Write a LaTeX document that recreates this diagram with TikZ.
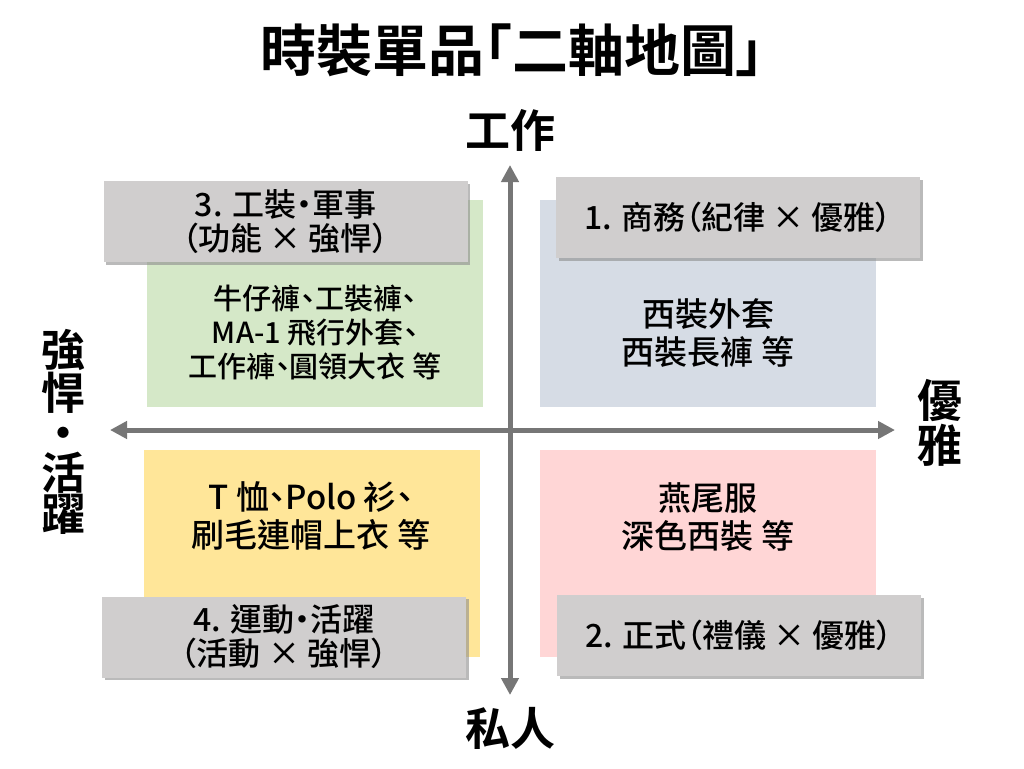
\documentclass[tikz,border=0pt]{standalone}
\usepackage{fontspec}
\setmainfont{Noto Sans CJK TC}[UprightFont=* Medium, BoldFont=* Bold, CharacterWidth=AlternateProportional]
\usetikzlibrary{arrows.meta,shadows}
\definecolor{axisgray}{RGB}{118,118,118}
\definecolor{labelgray}{RGB}{208,206,206}
\definecolor{qgreen}{RGB}{213,232,200}
\definecolor{qblue}{RGB}{214,220,229}
\definecolor{qyellow}{RGB}{255,230,153}
\definecolor{qpink}{RGB}{255,214,214}
\tikzset{
  quad/.style={rectangle, inner sep=0pt, minimum width=336pt, minimum height=207pt},
  tag/.style={rectangle, fill=labelgray, inner sep=0pt, minimum width=364pt, minimum height=81pt,
    align=center, font=\fontsize{32pt}{34pt}\selectfont,
    drop shadow={shadow xshift=2.5pt, shadow yshift=-2.5pt, fill=black!45, opacity=.6}},
  body/.style={align=center, font=\fontsize{33pt}{38pt}\selectfont},
  axislabel/.style={align=center, font=\bfseries\fontsize{45pt}{45pt}\selectfont},
}
\begin{document}
\begin{tikzpicture}[x=1pt, y=-1pt]
  \useasboundingbox[fill=white] (0,0) rectangle (1024,768);
  % title
  \node[font=\bfseries\fontsize{56pt}{60pt}\selectfont] (title) at (512,50) {時裝單品「二軸地圖」};
  % quadrants
  \node[quad, fill=qgreen]  (q3) at (315,303.5) {};
  \node[quad, fill=qblue]   (q1) at (708,303.5) {};
  \node[quad, fill=qyellow] (q4) at (311.5,553.5) {};
  \node[quad, fill=qpink]   (q2) at (708,553.5) {};
  % axes
  \coordinate (top) at (510,165);
  \coordinate (bottom) at (510,695);
  \coordinate (left) at (110,430);
  \coordinate (right) at (895,430);
  \draw[axisgray, line width=5pt, {Triangle[width=17pt,length=17pt]}-{Triangle[width=17pt,length=17pt]}] (top) -- (bottom);
  \draw[axisgray, line width=5pt, {Triangle[width=17pt,length=17pt]}-{Triangle[width=17pt,length=17pt]}] (left) -- (right);
  \node[axislabel] (work) at (510,130) {工作};
  \node[axislabel] (private) at (510,728) {私人};
  \node[axislabel] (elegant) at (940,423) {優\\雅};
  \node[axislabel, font=\bfseries\fontsize{44pt}{40pt}\selectfont] (tough) at (63,432) {強\\悍\\・\\活\\躍};
  % contents
  \node[body, font=\fontsize{29pt}{34pt}\selectfont] (t3) at (315,332) {牛仔褲、工裝褲、\\MA-1 飛行外套、\\工作褲、圓領大衣 等};
  \node[body] (t1) at (708,333) {西裝外套\\西裝長褲 等};
  \node[body] (t4) at (311,516) {T 恤、Polo 衫、\\刷毛連帽上衣 等};
  \node[body] (t2) at (708,517) {燕尾服\\深色西裝 等};
  % tags
  \node[tag] (k3) at (285.5,221.5) {3. 工裝・軍事\\（功能 × 強悍）};
  \node[tag] (k1) at (738,217.5) {1. 商務（紀律 × 優雅）};
  \node[tag] (k4) at (284,637) {4. 運動・活躍\\（活動 × 強悍）};
  \node[tag] (k2) at (739,635.5) {2. 正式（禮儀 × 優雅）};
\end{tikzpicture}
\end{document}
